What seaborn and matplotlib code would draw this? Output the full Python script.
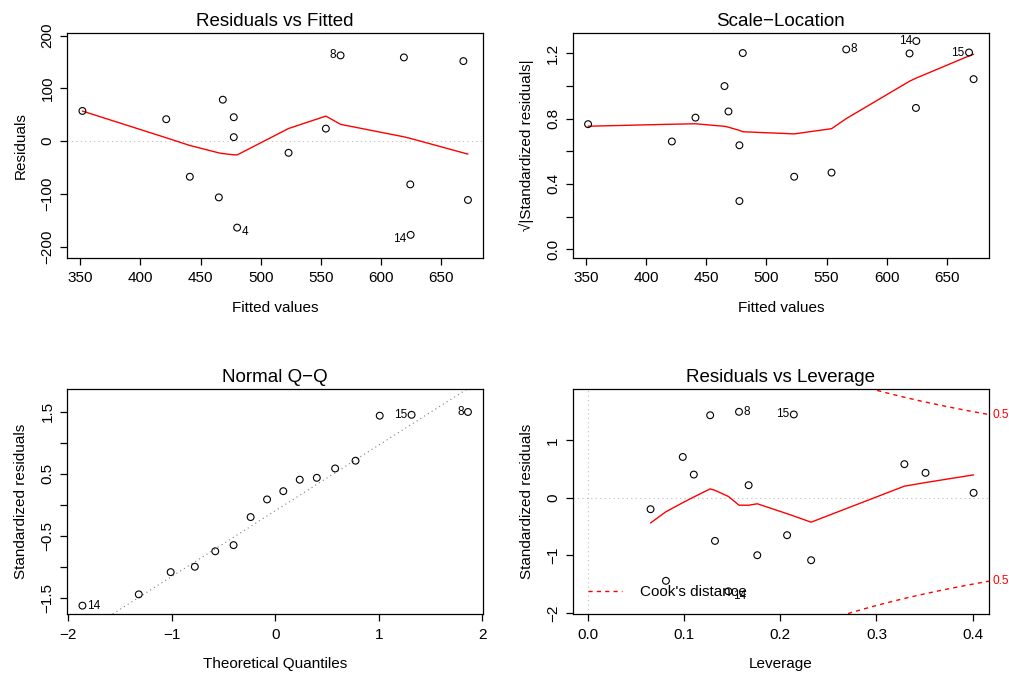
import numpy as np
import pandas as pd
import seaborn as sns
import matplotlib
matplotlib.use("Agg")
import matplotlib.pyplot as plt
from matplotlib.lines import Line2D
from matplotlib.transforms import blended_transform_factory
from statistics import NormalDist

obs = [1, 2, 3, 5, 6, 7, 9, 4, 10, 11, 8, 12, 13, 14, 15, 16]
fitted = [351.9, 421.5, 441.1, 465.2, 468.5, 477.6, 477.6, 480.4,
          523.1, 554.1, 566.3, 618.9, 624.2, 624.5, 668.3, 672.1]
resid = [57.3, 41.6, -67.5, -106.6, 78.6, 45.4, 7.6, -163.9,
         -22.1, 23.8, 162.6, 158.8, -82.0, -177.7, 151.8, -111.5]
std_resid = [0.586, 0.435, -0.649, -0.997, 0.711, 0.405, 0.087, -1.442,
             -0.197, 0.220, 1.496, 1.436, -0.748, -1.624, 1.450, -1.084]
leverage = [0.329, 0.351, 0.207, 0.176, 0.0985, 0.110, 0.401, 0.081,
            0.065, 0.167, 0.157, 0.127, 0.132, 0.146, 0.214, 0.232]
cook_levels = [0.5, 1.0]

df = pd.DataFrame({"obs": obs, "fitted": fitted, "resid": resid,
                   "sr": std_resid, "lev": leverage})
df["sqrt_sr"] = np.sqrt(np.abs(df.sr))
n = len(df)
a = 0.5 if n > 10 else 3 / 8
pp = (np.arange(1, n + 1) - a) / (n + 1 - 2 * a)
nd = NormalDist()
df["theo"] = 0.0
df.loc[df.sr.sort_values(kind="stable").index, "theo"] = [nd.inv_cdf(p) for p in pp]
p_coef = round(df.lev.sum())


def lowess(x, y, f=2 / 3, iters=3):
    # R's lowess (clowess)
    order = np.argsort(np.asarray(x), kind="stable")
    x = np.asarray(x, float)[order]
    y = np.asarray(y, float)[order]
    n = len(x)
    ns = max(2, min(n, int(f * n + 1e-7)))
    rng = x[-1] - x[0]
    rw = np.ones(n)
    ys = np.zeros(n)
    idx = np.arange(n)
    for it in range(iters + 1):
        nleft, nright = 0, ns - 1
        for i in range(n):
            if i > 0 and x[i] == x[i - 1]:
                ys[i] = ys[i - 1]
                continue
            xs = x[i]
            while nright < n - 1 and xs - x[nleft] > x[nright + 1] - xs:
                nleft += 1
                nright += 1
            h = max(xs - x[nleft], x[nright] - xs)
            r = np.abs(x - xs)
            sel = (idx >= nleft) & (r <= 0.999 * h)
            w = np.where(r <= 0.001 * h, 1.0, (1 - (r / h) ** 3) ** 3) * sel * rw
            s = w.sum()
            if s <= 0:
                ys[i] = y[i]
                continue
            w = w / s
            if h > 0:
                m = (w * x).sum()
                b = xs - m
                c = (w * (x - m) ** 2).sum()
                if np.sqrt(c) > 0.001 * rng:
                    w = w * (b / c * (x - m) + 1)
            ys[i] = (w * y).sum()
        if it == iters:
            break
        res = np.abs(y - ys)
        cmad = 6 * np.median(res)
        if cmad < 1e-7 * res.mean():
            break
        rw = np.where(res <= 0.001 * cmad, 1.0,
                      np.where(res <= 0.999 * cmad, (1 - (res / cmad) ** 2) ** 2, 0.0))
    return x, ys


def ext(lo, hi, f=0.04):
    d = (hi - lo) * f
    return lo - d, hi + d


def label_points(ax, d, xcol, ycol, shift_neg=False):
    xs = d[xcol].values
    mid = (xs.min() + xs.max()) / 2
    for _, row in d.iterrows():
        right = row[xcol] <= mid
        dy = -3.2 if (shift_neg and row[ycol] < 0) else 0
        ax.annotate(str(int(row.obs)), (row[xcol], row[ycol]),
                    xytext=(3.2 if right else -3.2, dy), textcoords="offset points",
                    ha="left" if right else "right", va="center",
                    fontsize=8.5, annotation_clip=False)


sns.set_style("ticks", {"axes.edgecolor": "black", "xtick.color": "black",
                        "ytick.color": "black", "text.color": "black",
                        "axes.labelcolor": "black"})
plt.rcParams["font.family"] = ["Liberation Sans", "DejaVu Sans"]
plt.rcParams["axes.linewidth"] = 0.9
plt.rcParams["xtick.major.size"] = 5
plt.rcParams["ytick.major.size"] = 5
plt.rcParams["xtick.major.width"] = 0.9
plt.rcParams["ytick.major.width"] = 0.9
plt.rcParams["xtick.labelsize"] = 11
plt.rcParams["ytick.labelsize"] = 11
plt.rcParams["axes.labelsize"] = 11

fig, axes = plt.subplots(2, 2, figsize=(10.09, 6.73), dpi=100)
fig.subplots_adjust(left=0.0664, right=0.9802, top=0.9514, bottom=0.0877,
                    wspace=0.2144, hspace=0.585)

pt_kw = dict(s=24, facecolor="none", edgecolor="black", linewidth=0.8, zorder=3)
dot = (0, (1, 3))
gray = "#BEBEBE"

# Residuals vs Fitted
ax = axes[0, 0]
ax.axhline(0, color=gray, ls=dot, lw=0.8)
sns.scatterplot(data=df, x="fitted", y="resid", ax=ax, **pt_kw)
lx, ly = lowess(df.fitted, df.resid)
sns.lineplot(x=lx, y=ly, ax=ax, color="red", lw=1, sort=False, estimator=None)
ax.set_xlim(*ext(df.fitted.min(), df.fitted.max()))
ax.set_ylim(*ext(*ext(df.resid.min(), df.resid.max(), 0.08)))
ax.set_xticks([350, 400, 450, 500, 550, 600, 650])
ax.set_yticks([-200, -100, 0, 100, 200])
ax.set_title("Residuals vs Fitted", fontsize=13.5, pad=5)
ax.set_xlabel("Fitted values")
ax.set_ylabel("Residuals")
top1 = df.reindex(df.resid.abs().sort_values(ascending=False).index[:3])
label_points(ax, top1, "fitted", "resid", shift_neg=True)

# Scale-Location
ax = axes[0, 1]
sns.scatterplot(data=df, x="fitted", y="sqrt_sr", ax=ax, **pt_kw)
lx, ly = lowess(df.fitted, df.sqrt_sr)
sns.lineplot(x=lx, y=ly, ax=ax, color="red", lw=1, sort=False, estimator=None)
ax.set_xlim(*ext(df.fitted.min(), df.fitted.max()))
ax.set_ylim(*ext(0, df.sqrt_sr.max()))
ax.set_xticks([350, 400, 450, 500, 550, 600, 650])
ax.set_yticks([0, 0.2, 0.4, 0.6, 0.8, 1.0, 1.2])
ax.set_yticklabels(["0.0", "", "0.4", "", "0.8", "", "1.2"])
ax.set_title("Scale\u2212Location", fontsize=13.5, pad=5)
ax.set_xlabel("Fitted values")
ax.set_ylabel("\u221a|Standardized residuals|")
top_sr = df.reindex(df.sr.abs().sort_values(ascending=False).index[:3])
label_points(ax, top_sr, "fitted", "sqrt_sr")

# Normal Q-Q
ax = axes[1, 0]
sns.scatterplot(data=df, x="theo", y="sr", ax=ax, **pt_kw)
q1, q3 = np.percentile(df.sr, [25, 75])
x1, x3 = nd.inv_cdf(0.25), nd.inv_cdf(0.75)
slope = (q3 - q1) / (x3 - x1)
ax.axline((x1, q1), slope=slope, color="#7F7F7F", ls=dot, lw=0.8)
ax.set_xlim(*ext(df.theo.min(), df.theo.max()))
ylo, yhi = df.sr.min(), df.sr.max()
ax.set_ylim(*ext(ylo, yhi + (yhi - ylo) * 0.075))
ax.set_xticks([-2, -1, 0, 1, 2])
ax.set_yticks([-1.5, -1, -0.5, 0, 0.5, 1, 1.5])
ax.set_yticklabels(["\u22121.5", "", "\u22120.5", "", "0.5", "", "1.5"])
ax.set_title("Normal Q\u2212Q", fontsize=13.5, pad=5)
ax.set_xlabel("Theoretical Quantiles")
ax.set_ylabel("Standardized residuals")
label_points(ax, top_sr, "theo", "sr")

# Residuals vs Leverage
ax = axes[1, 1]
xlim = ext(0, df.lev.max())
ylim = ext(*ext(df.sr.min(), df.sr.max(), 0.08))
ax.set_xlim(*xlim)
ax.set_ylim(*ylim)
ax.axhline(0, color=gray, ls=dot, lw=0.8)
ax.axvline(0, color=gray, ls=dot, lw=0.8)
sns.scatterplot(data=df, x="lev", y="sr", ax=ax, **pt_kw)
lx, ly = lowess(df.lev, df.sr)
sns.lineplot(x=lx, y=ly, ax=ax, color="red", lw=1, sort=False, estimator=None)
hh = np.linspace(min(df.lev.min(), df.lev.max() / 100), xlim[1], 101)
trans = blended_transform_factory(ax.transAxes, ax.transData)
for crit in cook_levels:
    cl = np.sqrt(crit * p_coef * (1 - hh) / hh)
    ax.plot(hh, cl, color="red", ls=(0, (3, 3)), lw=1)
    ax.plot(hh, -cl, color="red", ls=(0, (3, 3)), lw=1)
    aty = np.sqrt(crit * p_coef * (1 - xlim[1]) / xlim[1])
    for yy in (aty, -aty):
        if ylim[0] < yy < ylim[1]:
            ax.text(1.008, yy, f"{crit:g}", transform=trans, color="red",
                    fontsize=8.6, ha="left", va="center")
ax.set_xticks([0, 0.1, 0.2, 0.3, 0.4])
ax.set_xticklabels(["0.0", "0.1", "0.2", "0.3", "0.4"])
ax.set_yticks([-2, -1, 0, 1])
ax.set_title("Residuals vs Leverage", fontsize=13.5, pad=5)
ax.set_xlabel("Leverage")
ax.set_ylabel("Standardized residuals")
df["cook"] = df.sr ** 2 * df.lev / (p_coef * (1 - df.lev))
top_cook = df.reindex(df.cook.sort_values(ascending=False).index[:3])
label_points(ax, top_cook, "lev", "sr", shift_neg=True)
ax.legend(handles=[Line2D([], [], color="red", ls=(0, (3, 3)), lw=1)],
          labels=["Cook's distance"], loc="lower left", frameon=False,
          fontsize=11, handlelength=2.2, handletextpad=1.2,
          borderaxespad=0, borderpad=0, bbox_to_anchor=(0.038, 0.065))

for ax in axes.flat:
    ax.tick_params(axis="y", labelrotation=90, pad=4)
    ax.tick_params(axis="x", pad=5)
    for t in ax.get_yticklabels():
        t.set_va("center")
    ax.xaxis.labelpad = 11
    ax.yaxis.labelpad = 9

fig.savefig("out.png", dpi=100, facecolor="white")
